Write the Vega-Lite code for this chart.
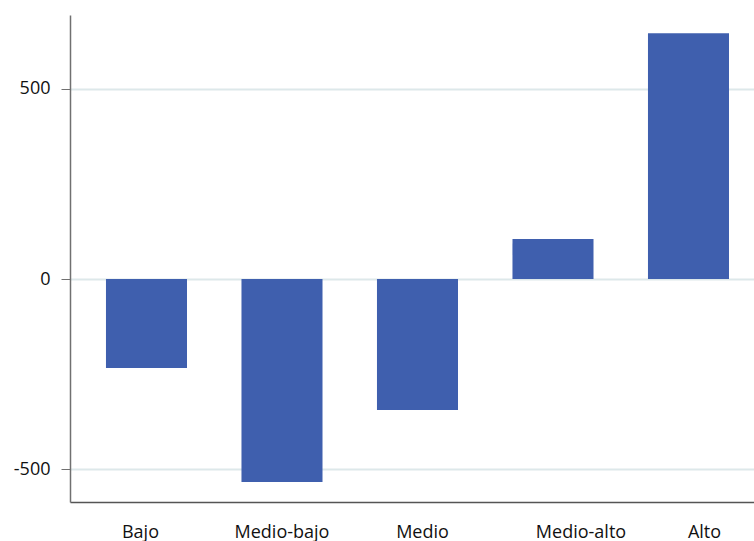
{
  "$schema": "https://vega.github.io/schema/vega-lite/v6.json",
  "width": 684,
  "height": 487,
  "autosize": "none",
  "padding": {"left": 70, "top": 15, "right": 0, "bottom": 39},
  "background": "white",
  "config": {"view": {"stroke": null}, "font": "Open Sans"},
  "data": {"values": [
    {"grupo": "Bajo", "valor": -234},
    {"grupo": "Medio-bajo", "valor": -534},
    {"grupo": "Medio", "valor": -345},
    {"grupo": "Medio-alto", "valor": 105},
    {"grupo": "Alto", "valor": 647}
  ]},
  "mark": {"type": "bar", "color": "#3f5fae"},
  "encoding": {
    "x": {
      "field": "grupo", "type": "nominal", "sort": null,
      "scale": {"paddingInner": 0.402, "paddingOuter": 0.225, "align": 0.59},
      "axis": {
        "title": null, "labelAngle": 0, "ticks": false, "grid": false,
        "domainColor": "#555555", "domainWidth": 1.5,
        "labelFontSize": 18, "labelColor": "#111111", "labelPadding": 21,
        "labelOffset": {
          "condition": [
            {"test": "datum.value === 'Bajo'", "value": -6},
            {"test": "datum.value === 'Medio'", "value": 5},
            {"test": "datum.value === 'Medio-alto'", "value": 28},
            {"test": "datum.value === 'Alto'", "value": 16}
          ],
          "value": 0
        }
      }
    },
    "y": {
      "field": "valor", "type": "quantitative",
      "scale": {"domain": [-586.8, 694.7], "nice": false, "zero": false},
      "axis": {
        "title": null, "values": [-500, 0, 500],
        "labelExpr": "replace(datum.label, '−', '-')",
        "grid": true, "gridColor": "#dde8ea", "gridWidth": 2,
        "domainColor": "#707070", "domainWidth": 1.5,
        "tickColor": "#707070", "tickSize": 9,
        "labelFontSize": 18, "labelColor": "#111111", "labelPadding": 11
      }
    }
  }
}
